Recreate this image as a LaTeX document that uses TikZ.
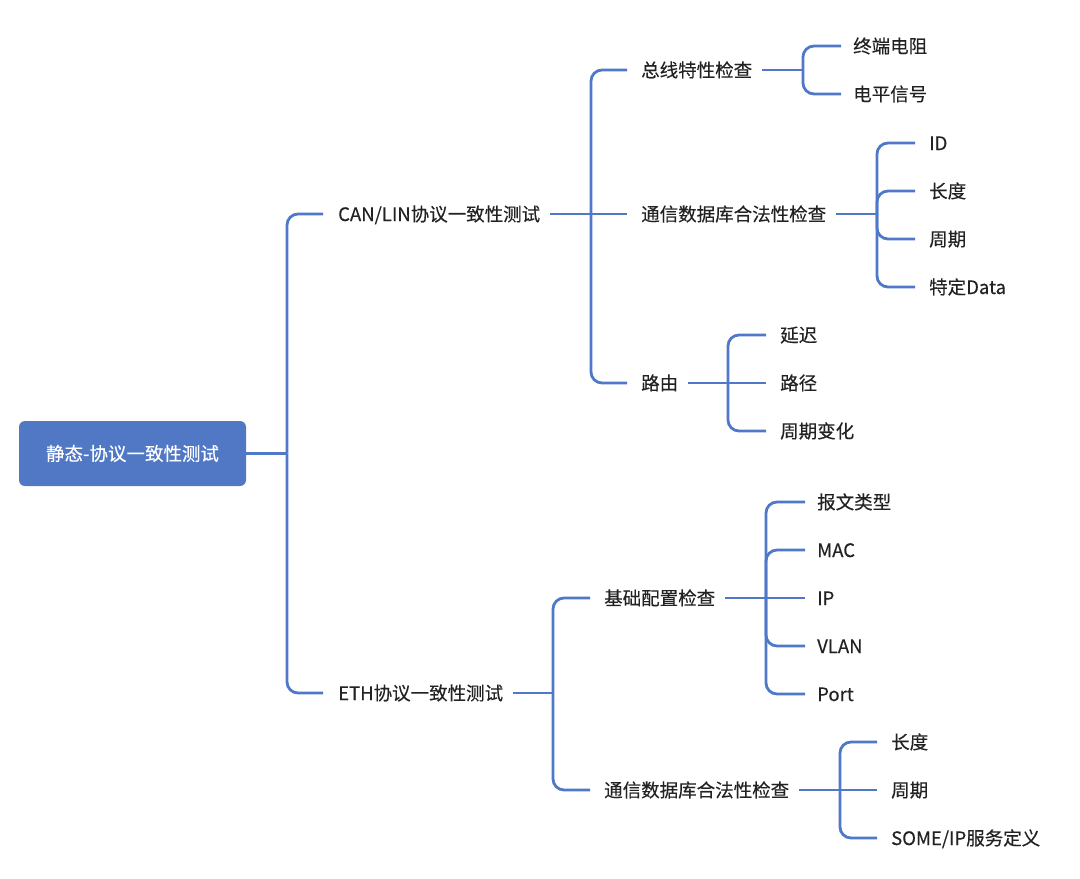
\documentclass[tikz,border=0pt]{standalone}
\usepackage{fontspec}
\setmainfont{Noto Sans CJK SC}[FakeBold=0.3]
\definecolor{lineblue}{RGB}{80,120,200}
\definecolor{rootblue}{RGB}{80,120,197}
\definecolor{txt}{RGB}{34,34,34}
\begin{document}
\begin{tikzpicture}[x=1pt,y=-1pt,
  lbl/.style={anchor=west, inner sep=0pt, text height=16pt, text depth=2pt,
    font=\fontsize{18.5}{22}\selectfont, text=txt},
  conn/.style={draw=lineblue, line width=2.8pt, rounded corners=11pt}]
\useasboundingbox (0,0) rectangle (1080,879);
\node[fill=rootblue, rounded corners=6pt, minimum width=227pt, minimum height=65pt,
  text=white, inner sep=0pt, font=\fontsize{18.5}{22}\selectfont] (root) at (132.5,453.5) {静态-协议一致性测试};
% level 1
\node[lbl] (can) at (338,214) {CAN/LIN协议一致性测试};
\node[lbl] (eth) at (338,693) {ETH协议一致性测试};
% level 2
\node[lbl] (bus) at (641,70) {总线特性检查};
\node[lbl] (db1) at (641,214) {通信数据库合法性检查};
\node[lbl] (route) at (641,383) {路由};
\node[lbl] (base) at (604,598) {基础配置检查};
\node[lbl] (db2) at (604,790) {通信数据库合法性检查};
% level 3
\node[lbl] (term) at (853,46) {终端电阻};
\node[lbl] (level) at (853,94) {电平信号};
\node[lbl] (id) at (929,143) {ID};
\node[lbl] (len1) at (929,191) {长度};
\node[lbl] (per1) at (929,239) {周期};
\node[lbl] (data) at (929,287) {特定Data};
\node[lbl] (delay) at (780,335) {延迟};
\node[lbl] (path) at (780,383) {路径};
\node[lbl] (pchg) at (780,431) {周期变化};
\node[lbl] (msg) at (817,502) {报文类型};
\node[lbl] (mac) at (817,550) {MAC};
\node[lbl] (ip) at (817,598) {IP};
\node[lbl] (vlan) at (817,646) {VLAN};
\node[lbl] (port) at (817,694) {Port};
\node[lbl] (len2) at (891,742) {长度};
\node[lbl] (per2) at (891,790) {周期};
\node[lbl] (some) at (891,838) {SOME/IP服务定义};
% junctions
\coordinate (j0) at (287,453.5);
\coordinate (jcan) at (591,214);
\coordinate (jeth) at (553,693);
\coordinate (jbus) at (803,70);
\coordinate (jdb1) at (877,214);
\coordinate (jroute) at (728,383);
\coordinate (jbase) at (766,598);
\coordinate (jdb2) at (840,790);
% connectors
\draw[conn] (root.east) -- (j0);
\foreach \c in {can,eth} \draw[conn] (j0) |- ([xshift=-15pt]\c.west);
\draw[conn] ([xshift=10pt]can.east) -- (jcan);
\draw[conn] (jcan) -- ([xshift=-14pt]db1.west);
\foreach \c in {bus,route} \draw[conn] (jcan) |- ([xshift=-14pt]\c.west);
\draw[conn] ([xshift=10pt]eth.east) -- (jeth);
\foreach \c in {base,db2} \draw[conn] (jeth) |- ([xshift=-14pt]\c.west);
\draw[conn] ([xshift=10pt]bus.east) -- (jbus);
\foreach \c in {term,level} \draw[conn] (jbus) |- ([xshift=-12pt]\c.west);
\draw[conn] ([xshift=10pt]db1.east) -- (jdb1);
\foreach \c in {id,len1,per1,data} \draw[conn] (jdb1) |- ([xshift=-14pt]\c.west);
\draw[conn] ([xshift=10pt]route.east) -- (jroute);
\draw[conn] (jroute) -- ([xshift=-14pt]path.west);
\foreach \c in {delay,pchg} \draw[conn] (jroute) |- ([xshift=-14pt]\c.west);
\draw[conn] ([xshift=10pt]base.east) -- (jbase);
\draw[conn] (jbase) -- ([xshift=-12pt]ip.west);
\foreach \c in {msg,mac,vlan,port} \draw[conn] (jbase) |- ([xshift=-12pt]\c.west);
\draw[conn] ([xshift=10pt]db2.east) -- (jdb2);
\draw[conn] (jdb2) -- ([xshift=-14pt]per2.west);
\foreach \c in {len2,some} \draw[conn] (jdb2) |- ([xshift=-14pt]\c.west);
\end{tikzpicture}
\end{document}
